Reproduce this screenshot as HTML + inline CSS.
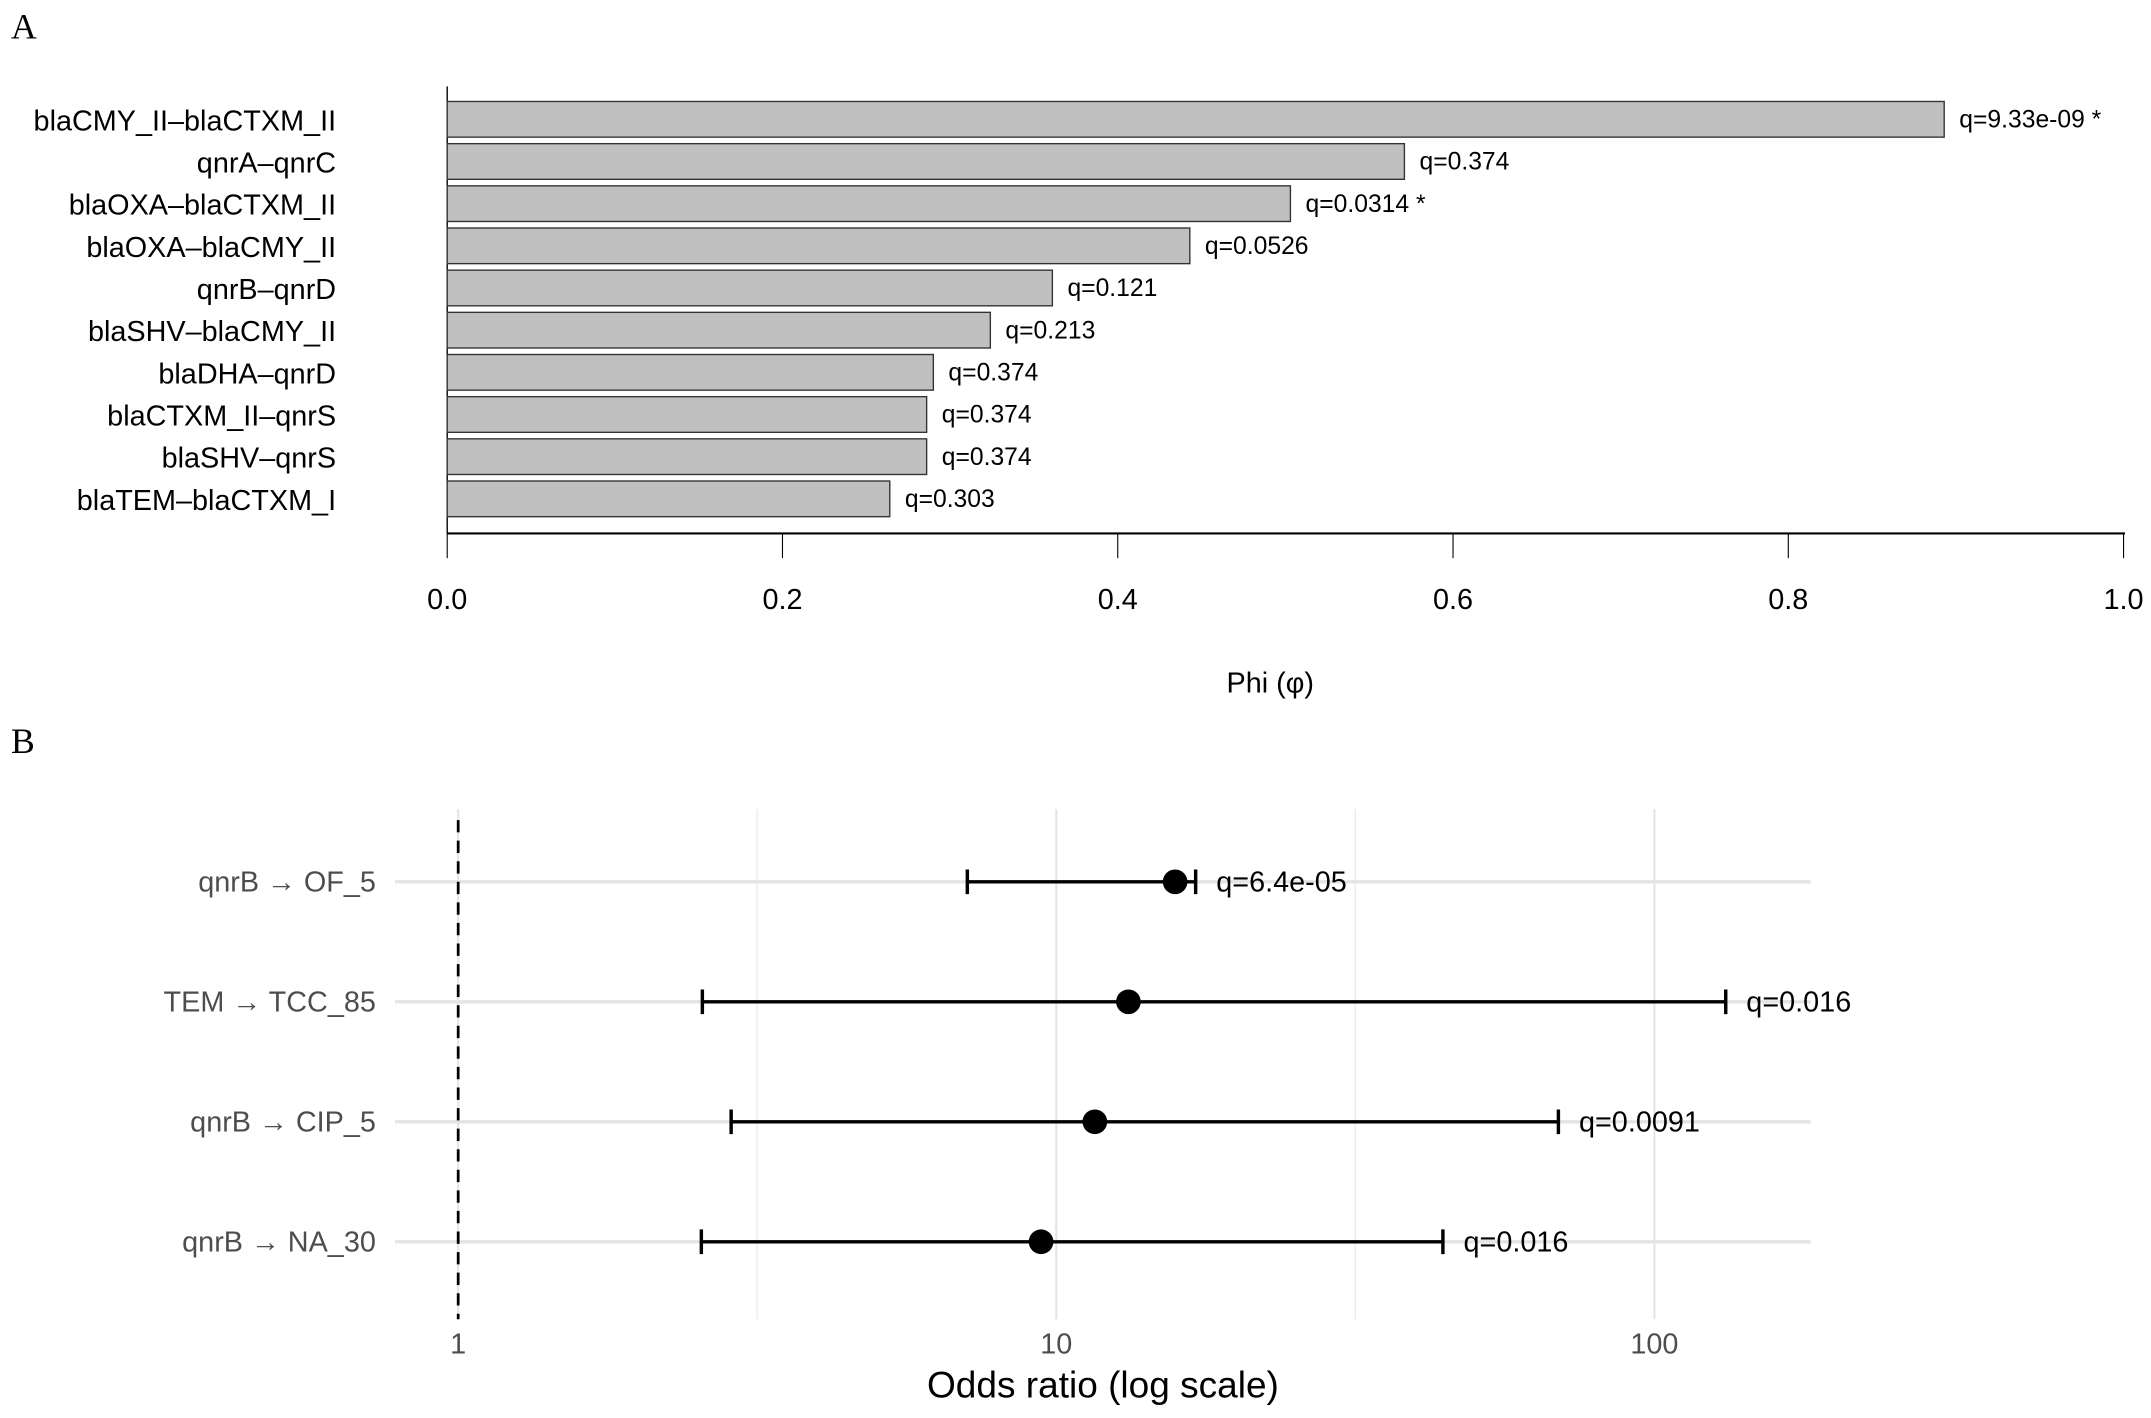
<!DOCTYPE html>
<html><head><meta charset="utf-8"><style>
html,body{margin:0;padding:0;background:#fff;}
svg{display:block;}
.n{font-family:"Liberation Sans Narrow","Liberation Sans",sans-serif;}
.s{font-family:"Liberation Sans",sans-serif;}
</style></head><body>
<svg id="chart" width="2151" height="1418" viewBox="0 0 1568 1034" preserveAspectRatio="none" xmlns="http://www.w3.org/2000/svg">
<text x="8" y="28" font-family="Liberation Serif,serif" font-size="26">A</text>
<text x="8" y="549" font-family="Liberation Serif,serif" font-size="26">B</text>
<g id="pa"></g>
<g id="pb"></g>
</svg>
<script>
const pairs=["blaCMY_II\u2013blaCTXM_II","qnrA\u2013qnrC","blaOXA\u2013blaCTXM_II","blaOXA\u2013blaCMY_II","qnrB\u2013qnrD","blaSHV\u2013blaCMY_II","blaDHA\u2013qnrD","blaCTXM_II\u2013qnrS","blaSHV\u2013qnrS","blaTEM\u2013blaCTXM_I"];
const phi=[0.893,0.571,0.503,0.443,0.361,0.324,0.290,0.286,0.286,0.264];
const qA=["q=9.33e-09 *","q=0.374","q=0.0314 *","q=0.0526","q=0.121","q=0.213","q=0.374","q=0.374","q=0.374","q=0.303"];
const ticksA=[0,0.2,0.4,0.6,0.8,1.0];
const tickLabA=["0.0","0.2","0.4","0.6","0.8","1.0"];

const assoc=["qnrB \u2192 OF_5","TEM \u2192 TCC_85","qnrB \u2192 CIP_5","qnrB \u2192 NA_30"];
const orVal=[15.8,13.2,11.6,9.43];
const orLo=[7.1,2.56,2.86,2.55];
const orHi=[17.1,131.6,69.1,44.3];
const qB=["q=6.4e-05","q=0.016","q=0.0091","q=0.016"];
const ticksB=[1,10,100];
const minorB=[3.162,31.62];

const NS="http://www.w3.org/2000/svg";
function mk(p,t,a,txt){const e=document.createElementNS(NS,t);for(const k in a)e.setAttribute(k,a[k]);if(txt!==undefined)e.textContent=txt;p.appendChild(e);return e;}
// Panel A
const A=document.getElementById('pa');
const xA=v=>326+v*1222;
const yA=i=>87+i*30.75;
let e;
e=mk(A,'line',{x1:326,y1:63,x2:326,y2:389,stroke:'#000','stroke-width':1});


e=mk(A,'line',{x1:326,y1:389,x2:1549,y2:389,stroke:'#000','stroke-width':1.5});


ticksA.forEach((t,i)=>{
 e=mk(A,'line',{x1:xA(t),y1:389,x2:xA(t),y2:407,stroke:'#000','stroke-width':0.8});
 
 
 e=mk(A,'text',{x:xA(t),y:444,'text-anchor':'middle','font-size':21,class:'n'},tickLabA[i]);
 
 
});
pairs.forEach((p,i)=>{
 const y=yA(i);
 e=mk(A,'rect',{x:326,y:y-13,width:xA(phi[i])-326,height:26,fill:'#c0c0c0',stroke:'#333','stroke-width':1});
 
 
 e=mk(A,'text',{x:245,y:y+8,'text-anchor':'end','font-size':21,class:'n'},p);
 
 
 e=mk(A,'text',{x:xA(phi[i])+11,y:y+6,'font-size':18,class:'n'},qA[i]);
 
 
});
e=mk(A,'text',{x:926,y:505,'text-anchor':'middle','font-size':21,class:'n'},'Phi (\u03c6)');


// Panel B
const B=document.getElementById('pb');
const xB=v=>334+Math.log10(v)*436;
const yB=i=>643+i*87.5;
minorB.forEach(t=>{
 e=mk(B,'line',{x1:xB(t),y1:590,x2:xB(t),y2:962,stroke:'#ececec','stroke-width':1});
 
 
});
ticksB.forEach(t=>{
 e=mk(B,'line',{x1:xB(t),y1:590,x2:xB(t),y2:962,stroke:'#e4e4e4','stroke-width':1.5});
 
 
 e=mk(B,'text',{x:xB(t),y:987,'text-anchor':'middle','font-size':21,fill:'#4d4d4d',class:'n'},String(t));
 
 
});
assoc.forEach((a,i)=>{
 e=mk(B,'line',{x1:288,y1:yB(i),x2:1320,y2:yB(i),stroke:'#e4e4e4','stroke-width':2.5});
 
 
});
e=mk(B,'line',{x1:334,y1:598,x2:334,y2:962,stroke:'#000','stroke-width':2,'stroke-dasharray':'9,6'});


assoc.forEach((a,i)=>{
 const y=yB(i),l=xB(orLo[i]),h=xB(orHi[i]);
 e=mk(B,'text',{x:274,y:y+7,'text-anchor':'end','font-size':21,fill:'#4d4d4d',class:'n'},a);
 
 
 e=mk(B,'path',{d:`M${l},${y}H${h}M${l},${y-9}V${y+9}M${h},${y-9}V${y+9}`,stroke:'#000','stroke-width':2.5,fill:'none'});
 
 
 e=mk(B,'circle',{cx:xB(orVal[i]),cy:y,r:9,fill:'#000'});
 
 
 e=mk(B,'text',{x:h+15,y:y+7,'font-size':21,class:'n'},qB[i]);
 
 
});
e=mk(B,'text',{x:804,y:1019,'text-anchor':'middle','font-size':27,class:'n'},'Odds ratio (log scale)');


</script>
</body></html>
